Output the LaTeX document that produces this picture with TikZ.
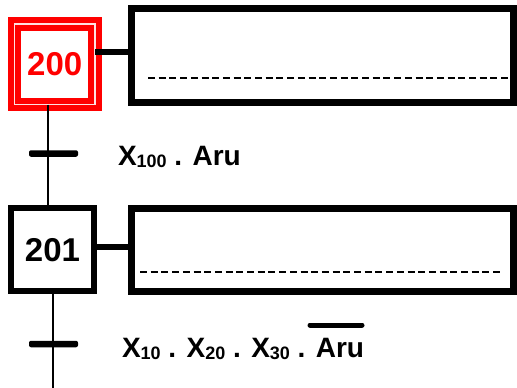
\documentclass[tikz,border=0pt]{standalone}
\usepackage{fontspec}
\setmainfont{Liberation Sans}
\usetikzlibrary{calc}

\begin{document}
\begin{tikzpicture}[
            x = 1pt, y = -1pt,
            every node/.style={inner sep=0pt, outer sep=0pt, text depth=0pt},
            stepbox/.style={draw, line width=6pt, minimum size=83pt, font=\bfseries\fontsize{33}{33}\selectfont},
            initstep/.style={stepbox, draw=red, text=red, line width=6pt, double=red!12, double distance=1.5pt, minimum size=80.5pt},
            actionbox/.style={draw, line width=7pt, minimum width=382pt},
            bar/.style={fill, rounded corners=2pt, minimum width=49pt, minimum height=6.5pt},
            line/.style={line width=2pt},
            link/.style={line width=6pt},
            dashline/.style={line width=2pt, dash pattern=on 7pt off 3.7pt},
            label/.style={anchor=base west, font=\bfseries\fontsize{28}{28}\selectfont},
            ]
        \useasboundingbox (0, 0) rectangle (517, 388);

        \newcommand{\idx}[1]{\raisebox{-2pt}{\fontsize{18}{18}\selectfont #1}}

        % steps
        \node[initstep] (s200) at (54.75, 64.25) {200};
        \node[stepbox] (s201) at (52.5, 249.5) {201};

        % actions
        \node[actionbox, minimum height=94pt] (a200) at (322.5, 55.5) {};
        \node[actionbox, minimum height=82.5pt] (a201) at (322.5, 249.75) {};
        \coordinate (d200) at (148, 78);
        \coordinate (d201) at (140, 272);
        \draw[dashline] (d200) -- (510, 78);
        \draw[dashline] (d201) -- (503, 272);

        \draw[link] ([yshift=12.75pt]s200.east) -- ([yshift=12.75pt]s200.east -| a200.west);
        \draw[link] ([yshift=3pt]s201.east) -- ([yshift=3pt]s201.east -| a201.west);

        % transitions
        \node[bar] (t1) at (53.5, 153.5) {};
        \node[bar] (t2) at (53.5, 344) {};
        \coordinate (v1) at (48, 153.5);
        \coordinate (v2) at (52.5, 344);
        \coordinate (end) at (52.5, 388);

        \draw[line] (s200.south -| v1) -- (v1) -- (s201.north -| v1);
        \draw[line] (s201.south -| v2) -- (v2) -- (end);

        \node[label] (r1) at (118, 165) {X\idx{100} . Aru};
        \node[label] (r2) at (122, 357) {X\idx{10} . X\idx{20} . X\idx{30} . Aru};
        \coordinate (o1) at (310, 325);
        \coordinate (o2) at (362, 325);
        \draw[line width=5pt, line cap=round] (o1) -- (o2);
    \end{tikzpicture}
\end{document}
